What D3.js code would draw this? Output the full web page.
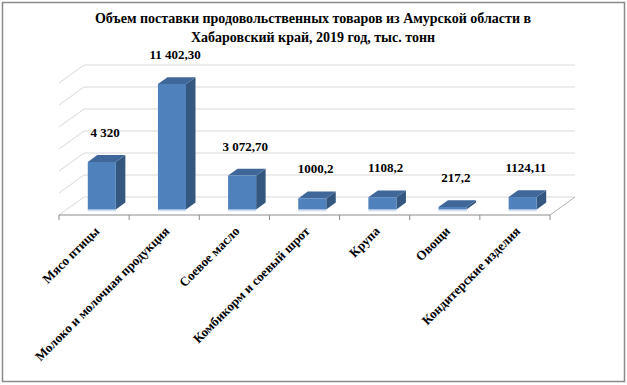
<!DOCTYPE html>
<html>
<head>
<meta charset="utf-8">
<script src="https://cdn.jsdelivr.net/npm/d3@7"></script>
<style>
  body { margin: 0; background: #fff; }
  text { font-family: "Liberation Serif", "Times New Roman", serif; font-weight: bold; fill: #000; }
</style>
</head>
<body>
<div id="chart"></div>
<script>
// data
var categories = ["Мясо птицы", "Молоко и молочная продукция", "Соевое масло",
  "Комбикорм и соевый шрот", "Крупа", "Овощи", "Кондитерские изделия"];
var values = [4320, 11402.3, 3072.7, 1000.2, 1108.2, 217.2, 1124.11];
var valueLabels = ["4 320", "11 402,30", "3 072,70", "1000,2", "1108,2", "217,2", "1124,11"];
var gridTicks = [0, 2000, 4000, 6000, 8000, 10000, 12000];
var titleLines = ["Объем поставки продовольственных товаров из Амурской области в",
  "Хабаровский край, 2019 год, тыс. тонн"];

var width = 627, height = 385;
var floorY = 215;          // front edge of the floor
var depthX = 25, depthY = 18; // full depth of the 3d box
var f0 = 0.31, f1 = 0.69;  // bar position inside the depth

var x = d3.scaleBand()
  .domain(categories)
  .range([59, 550]);

var h = d3.scaleLinear()
  .domain([0, 12000])
  .range([0, 132]);

var barW = x.bandwidth() * 0.4;

// project a point: front x, depth fraction, value
function pt(px, f, v) {
  return [px + depthX * f, floorY - depthY * f - h(v)];
}
function poly(points) {
  return points.map(function(p) { return p.join(","); }).join(" ");
}

var svg = d3.select("#chart")
  .append("svg")
  .attr("width", width)
  .attr("height", height);

// outer frame
svg.append("rect")
  .attr("x", 2.5).attr("y", 2.5)
  .attr("width", 622).attr("height", 379)
  .attr("fill", "#fff")
  .attr("stroke", "#8a8a8a")
  .attr("stroke-width", 1.5);

// title
svg.append("g")
  .selectAll("text")
  .data(titleLines)
  .enter().append("text")
  .attr("x", 313)
  .attr("y", function(d, i) { return 23 + i * 19; })
  .attr("text-anchor", "middle")
  .style("font-size", "14px")
  .text(function(d) { return d; });

var x0 = x.range()[0], x1 = x.range()[1];

// back wall gridlines + side wall diagonals
var grid = svg.append("g")
  .attr("stroke", "#d9d9d9")
  .attr("fill", "none");

gridTicks.forEach(function(t) {
  var a = pt(x0, 0, t), b = pt(x0, 1, t), c = pt(x1, 1, t);
  grid.append("polyline")
    .attr("points", poly([a, b, c]));
});

// floor
var floor = svg.append("g").attr("fill", "none");
floor.append("line")
  .attr("x1", x1).attr("y1", floorY)
  .attr("x2", pt(x1, 1, 0)[0]).attr("y2", pt(x1, 1, 0)[1])
  .attr("stroke", "#b0b0b0");
floor.append("line")
  .attr("x1", x0).attr("y1", floorY)
  .attr("x2", x1).attr("y2", floorY)
  .attr("stroke", "#8c8c8c");

// ticks under the front edge
floor.selectAll(".tick")
  .data(categories.concat([null]))
  .enter().append("line")
  .attr("class", "tick")
  .attr("x1", function(d, i) { return x0 + i * x.step(); })
  .attr("x2", function(d, i) { return x0 + i * x.step(); })
  .attr("y1", floorY)
  .attr("y2", floorY + 5)
  .attr("stroke", "#8c8c8c");

// bars
var bars = svg.append("g")
  .selectAll("g")
  .data(categories)
  .enter().append("g");

function barLeft(d) { return x(d) + (x.bandwidth() - barW) / 2; }

// faint reflection under each bar
bars.append("rect")
  .attr("x", function(d) { return pt(barLeft(d), f0, 0)[0]; })
  .attr("y", function(d) { return pt(0, f0, 0)[1]; })
  .attr("width", barW)
  .attr("height", 2)
  .attr("fill", "#d3e1f3");

// side face
bars.append("polygon")
  .attr("points", function(d, i) {
    var l = barLeft(d) + barW, v = values[i];
    return poly([pt(l, f0, 0), pt(l, f1, 0), pt(l, f1, v), pt(l, f0, v)]);
  })
  .attr("fill", "#34577f");

// top face
bars.append("polygon")
  .attr("points", function(d, i) {
    var l = barLeft(d), r = l + barW, v = values[i];
    return poly([pt(l, f0, v), pt(r, f0, v), pt(r, f1, v), pt(l, f1, v)]);
  })
  .attr("fill", "#3f679a");

// front face
bars.append("polygon")
  .attr("points", function(d, i) {
    var l = barLeft(d), r = l + barW, v = values[i];
    return poly([pt(l, f0, 0), pt(r, f0, 0), pt(r, f0, v), pt(l, f0, v)]);
  })
  .attr("fill", "#4f81bd");

// value labels
svg.append("g")
  .selectAll("text")
  .data(valueLabels)
  .enter().append("text")
  .attr("x", function(d, i) { return x(categories[i]) + x.bandwidth() / 2 + 11; })
  .attr("y", function(d, i) { return pt(0, f0, values[i])[1] - 25; })
  .attr("text-anchor", "middle")
  .style("font-size", "13px")
  .text(function(d) { return d; });

// category labels
svg.append("g")
  .selectAll("text")
  .data(categories)
  .enter().append("text")
  .attr("transform", function(d) {
    return "translate(" + (x(d) + x.bandwidth() / 2 + 6) + "," + 232 + ") rotate(-45)";
  })
  .attr("text-anchor", "end")
  .style("font-size", "13px")
  .text(function(d) { return d; });
</script>
</body>
</html>
